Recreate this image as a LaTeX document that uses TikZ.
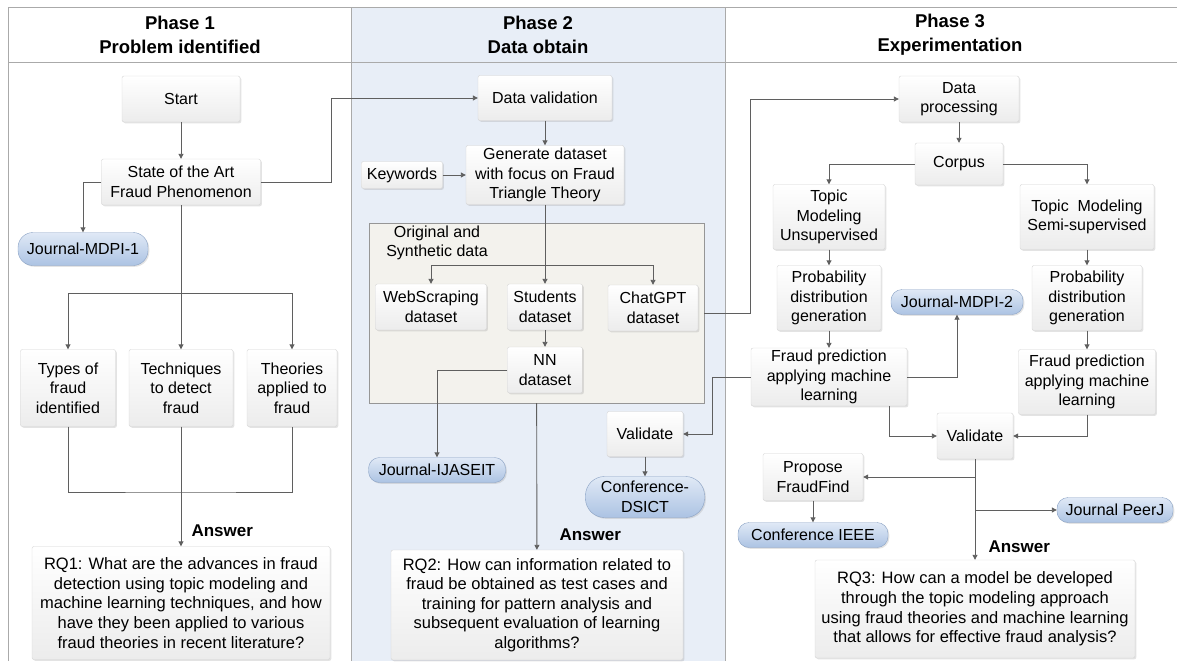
\documentclass[tikz,border=0pt]{standalone}
\usepackage{fontspec}
\setmainfont{Liberation Sans}
\usetikzlibrary{positioning, arrows.meta, shadows}

\definecolor{phasebg}{RGB}{232,238,247}
\definecolor{framecol}{RGB}{170,170,170}
\definecolor{linecol}{RGB}{95,95,95}
\definecolor{boxdraw}{RGB}{212,212,212}
\definecolor{boxbot}{RGB}{236,236,236}
\definecolor{pilltop}{RGB}{224,233,246}
\definecolor{pillbot}{RGB}{172,195,227}
\definecolor{pilldraw}{RGB}{138,162,196}
\definecolor{contfill}{RGB}{243,242,237}
\definecolor{contdraw}{RGB}{150,150,150}

\begin{document}
\begin{tikzpicture}[
    x=1pt, y=-1pt,
    box/.style={rectangle, draw=boxdraw, rounded corners=2pt,
                top color=white, bottom color=boxbot,
                drop shadow={opacity=0.22, shadow xshift=1.3pt, shadow yshift=-1.3pt},
                align=center, inner sep=2pt,
                font=\fontsize{16}{19.5}\selectfont},
    qbox/.style={box, font=\fontsize{16.5}{19.6}\selectfont},
    pill/.style={rectangle, draw=pilldraw, rounded corners=11pt,
                 top color=pilltop, bottom color=pillbot,
                 drop shadow={opacity=0.22, shadow xshift=1.3pt, shadow yshift=-1.3pt},
                 align=center, inner sep=2pt,
                 font=\fontsize{16}{19.5}\selectfont},
    hdr/.style={align=center, font=\bfseries\fontsize{18.5}{24}\selectfont},
    answer/.style={anchor=west, font=\bfseries\fontsize{17}{20}\selectfont},
    link/.style={draw=linecol, line width=0.9pt},
    >={Triangle[length=5pt, width=5pt]}
]
\useasboundingbox (0,0) rectangle (1177,661);

%% --- Fundal si cadru ---
\fill[phasebg] (351,8) rectangle (725,661);
\draw[framecol, line width=1pt] (8,661) -- (8,8) -- (1177,8);
\draw[framecol, line width=1pt] (8,63) -- (1177,63);
\draw[framecol, line width=1pt] (351,8) -- (351,661);
\draw[framecol, line width=1pt] (725,8) -- (725,661);

%% --- Titluri faze ---
\node[hdr] (h1) at (180,35) {Phase 1\\Problem identified};
\node[hdr] (h2) at (538,35) {Phase 2\\Data obtain};
\node[hdr] (h3) at (950,35) {Phase 3\\Experimentation};

%% --- FAZA 1 ---
\node[box, minimum width=118, minimum height=46] (start) at (181,99) {Start};
\node[box, minimum width=159, minimum height=46] (sota)  at (181,182) {State of the Art\\Fraud Phenomenon};
\node[pill, minimum width=130, minimum height=33, rounded corners=15pt] (mdpi1) at (83,249) {Journal-MDPI-1};
\node[box, minimum width=95,  minimum height=77] (types) at (68,388)  {Types of\\fraud\\identified};
\node[box, minimum width=104, minimum height=77] (tech)  at (181,388) {Techniques\\to detect\\fraud};
\node[box, minimum width=90,  minimum height=77] (theo)  at (292,388) {Theories\\applied to\\fraud};
\node[qbox, minimum width=298, minimum height=113] (rq1) at (181,603)
    {RQ1: What are the advances in fraud\\detection using topic modeling and\\machine learning techniques, and how\\have they been applied to various\\fraud theories in recent literature?};
\node[answer] (ans1) at (188,531) {Answer};

%% --- FAZA 2 ---
\node[box, minimum width=134, minimum height=45] (dval) at (545,98) {Data validation};
\node[box, minimum width=158, minimum height=59] (gen)  at (545,175) {Generate dataset\\with focus on Fraud\\Triangle Theory};
\node[box, minimum width=81,  minimum height=27] (kw)   at (402,175) {Keywords};
\node[rectangle, draw=contdraw, fill=contfill, minimum width=335, minimum height=180] (cont) at (536.5,313) {};
\node[align=center, font=\fontsize{16}{19.5}\selectfont] (contlbl) at (437,243) {Original and\\Synthetic data};
\node[box, minimum width=111, minimum height=46] (web)  at (431,307) {WebScraping\\dataset};
\node[box, minimum width=75,  minimum height=46] (stud) at (545,307) {Students\\dataset};
\node[box, minimum width=90,  minimum height=46] (chat) at (653,308) {ChatGPT\\dataset};
\node[box, minimum width=75,  minimum height=46] (nn)   at (545,370) {NN\\dataset};
\node[pill, minimum width=137, minimum height=25] (ijas) at (437,470) {Journal-IJASEIT};
\node[box, minimum width=76,  minimum height=45] (val2) at (645,434) {Validate};
\node[pill, minimum width=119, minimum height=41, rounded corners=19pt] (dsict) at (645,497) {Conference-\\DSICT};
\node[qbox, minimum width=292, minimum height=110] (rq2) at (537,605)
    {RQ2: How can information related to\\fraud be obtained as test cases and\\training for pattern analysis and\\subsequent evaluation of learning\\algorithms?};
\node[answer] (ans2) at (556,535) {Answer};

%% --- FAZA 3 ---
\node[box, minimum width=120, minimum height=46] (dproc)  at (959,99)  {Data\\processing};
\node[box, minimum width=88,  minimum height=42] (corpus) at (959,164) {Corpus};
\node[box, minimum width=112, minimum height=65] (tmu) at (829,217)  {Topic\\Modeling\\Unsupervised};
\node[box, minimum width=134, minimum height=65] (tms) at (1087,217) {Topic~~Modeling\\Semi-supervised};
\node[box, minimum width=104, minimum height=65] (pdl) at (829,298)  {Probability\\distribution\\generation};
\node[box, minimum width=110, minimum height=65] (pdr) at (1087,298) {Probability\\distribution\\generation};
\node[pill, minimum width=132, minimum height=25] (mdpi2) at (957,302) {Journal-MDPI-2};
\node[box, minimum width=156, minimum height=54] (fpl) at (829,377)  {Fraud prediction\\applying machine\\learning};
\node[box, minimum width=137, minimum height=65] (fpr) at (1087,382) {Fraud prediction\\applying machine\\learning};
\node[box, minimum width=76,  minimum height=46] (val3) at (975,436) {Validate};
\node[box, minimum width=100, minimum height=47] (prop) at (813,477) {Propose\\FraudFind};
\node[pill, minimum width=150, minimum height=25] (ieee)  at (813,535)  {Conference IEEE};
\node[pill, minimum width=116, minimum height=25] (peerj) at (1115,510) {Journal PeerJ};
\node[qbox, minimum width=320, minimum height=98] (rq3) at (975,609)
    {RQ3: How can a model be developed\\through the topic modeling approach\\using fraud theories and machine learning\\that allows for effective fraud analysis?};
\node[answer] (ans3) at (985,547) {Answer};

%% --- SAGETI FAZA 1 ---
\coordinate (br1) at (181,293);
\coordinate (mg1) at (181,492);
\draw[link, ->] (start) -- (sota);
\draw[link, ->] (sota.west) -| (mdpi1);
\draw[link, ->] (sota.east) -- ++(71,0) |- (dval);
\draw[link, ->] (sota) -- (tech);
\draw[link, ->] (br1) -| (types);
\draw[link, ->] (br1) -| (theo);
\draw[link] (types) |- (mg1) -| (theo);
\draw[link, ->] (tech) -- (rq1);

%% --- SAGETI FAZA 2 ---
\coordinate (br2) at (545,265);
\draw[link, ->] (dval) -- (gen);
\draw[link, ->] (kw) -- (gen);
\draw[link, ->] (gen) -- (stud);
\draw[link, ->] (br2) -| (web);
\draw[link, ->] (br2) -| (chat);
\draw[link, ->] (stud) -- (nn);
\draw[link, ->] (nn.west) -| (ijas);
\draw[link, ->] (cont) -- (rq2);
\draw[link, ->] (val2) -- (dsict);
\draw[link, ->] (cont.east) -- ++(46,0) |- (dproc);
\draw[link, ->] (fpl.west) -- ++(-38,0) |- (val2);

%% --- SAGETI FAZA 3 ---
\draw[link, ->] (dproc) -- (corpus);
\draw[link, ->] (corpus.west) -| (tmu);
\draw[link, ->] (corpus.east) -| (tms);
\draw[link, ->] (tmu) -- (pdl);
\draw[link, ->] (pdl) -- (fpl);
\draw[link, ->] (tms) -- (pdr);
\draw[link, ->] (pdr) -- (fpr);
\draw[link, ->] (fpl.east) -| (mdpi2);
\draw[link, ->] ([xshift=60pt]fpl.south) |- (val3);
\draw[link, ->] (fpr) |- (val3);
\draw[link, ->] (val3) -- (rq3);
\draw[link, ->] (prop.east -| val3) -- (prop);
\draw[link, ->] (peerj.west -| val3) -- (peerj);
\draw[link, ->] (prop) -- (ieee);

\end{tikzpicture}
\end{document}
